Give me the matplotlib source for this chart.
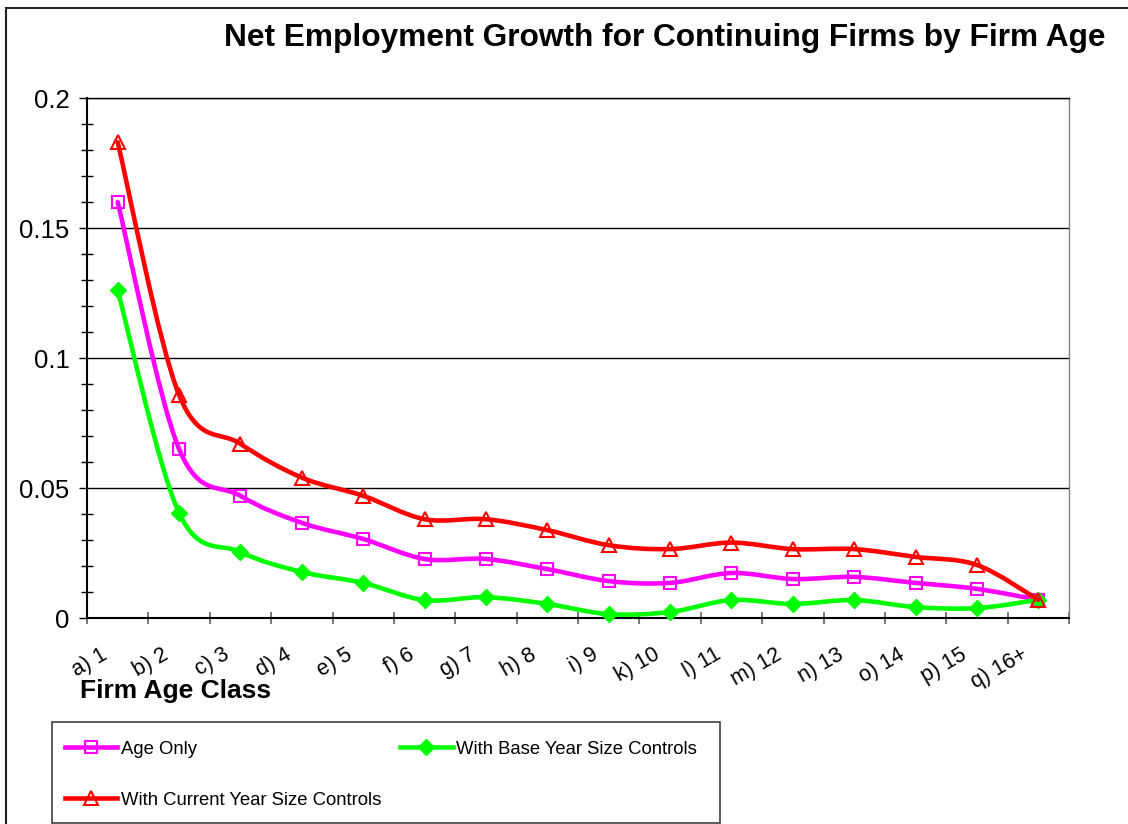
import matplotlib
matplotlib.use("Agg")
import matplotlib.pyplot as plt
import numpy as np
from matplotlib.path import Path
from matplotlib.patches import PathPatch, Rectangle
from matplotlib.lines import Line2D
from matplotlib.ticker import FixedLocator, MultipleLocator
import matplotlib.transforms as mtrans

plt.rcParams['font.family'] = ['Liberation Sans', 'DejaVu Sans']

categories = ["a) 1", "b) 2", "c) 3", "d) 4", "e) 5", "f) 6", "g) 7", "h) 8",
              "i) 9", "k) 10", "l) 11", "m) 12", "n) 13", "o) 14", "p) 15", "q) 16+"]
age_only = [0.160, 0.065, 0.047, 0.0366, 0.0304, 0.0227, 0.0227, 0.0188,
            0.0142, 0.0135, 0.0173, 0.0150, 0.0158, 0.0135, 0.0112, 0.007]
base_year = [0.126, 0.0404, 0.0254, 0.0177, 0.0135, 0.0069, 0.0080, 0.0054,
             0.0015, 0.0023, 0.0069, 0.0054, 0.0069, 0.0042, 0.0038, 0.007]
current_year = [0.183, 0.0858, 0.067, 0.054, 0.047, 0.038, 0.038, 0.0338,
                0.028, 0.0265, 0.029, 0.0265, 0.0265, 0.0235, 0.0204, 0.007]

W, H = 1128, 824
fig = plt.figure(figsize=(W / 100, H / 100), dpi=100)
ax = fig.add_axes([87 / W, 1 - 618 / H, 982 / W, 520 / H])

n = len(categories)
xs = np.arange(n) + 0.5


def smooth_path(x, y):
    pts = np.column_stack([x, y])
    verts = [pts[0]]
    codes = [Path.MOVETO]
    for i in range(len(pts) - 1):
        p0 = pts[i - 1] if i > 0 else pts[i]
        p1 = pts[i]
        p2 = pts[i + 1]
        p3 = pts[i + 2] if i + 2 < len(pts) else pts[i + 1]
        c1 = p1 + (p2 - p0) / 6.0
        c2 = p2 - (p3 - p1) / 6.0
        verts += [c1, c2, p2]
        codes += [Path.CURVE4] * 3
    return Path(verts, codes)


series = [
    ("Age Only", age_only, "#FF00FF", dict(marker="s", ms=9, mfc="none", mew=1.5)),
    ("With Base Year Size Controls", base_year, "#00FF00", dict(marker="D", ms=8.5, mfc="#00FF00", mew=1)),
    ("With Current Year Size Controls", current_year, "#FF0000", dict(marker="^", ms=10.5, mfc="none", mew=1.5)),
]

handles = {}
for z, (name, vals, col, mk) in enumerate(series):
    patch = PathPatch(smooth_path(xs, np.array(vals)), fill=False, edgecolor=col,
                      lw=3.3, capstyle="round", joinstyle="round", zorder=3 + z)
    ax.add_patch(patch)
    ax.plot(xs, vals, linestyle="none", color=col, mec=col, zorder=3.5 + z, clip_on=False, **mk)
    handles[name] = Line2D([], [], color=col, lw=3.3, mec=col, **mk)

ax.set_xlim(0, n)
ax.set_ylim(0, 0.2)

# y axis
ax.set_yticks([0, 0.05, 0.1, 0.15, 0.2])
ax.set_yticklabels(["0", "0.05", "0.1", "0.15", "0.2"])
ax.yaxis.set_minor_locator(MultipleLocator(0.01))
ax.tick_params(axis="y", which="major", direction="out", length=5.5, width=1,
               labelsize=18.5, pad=7, color="black")
ax.tick_params(axis="y", which="minor", direction="inout", length=9, width=1, color="black")
ax.grid(axis="y", which="major", color="black", lw=1)

# x axis: ticks at category boundaries, labels at centers
ax.xaxis.set_major_locator(FixedLocator(np.arange(0, n + 1)))
ax.xaxis.set_minor_locator(FixedLocator([]))
ax.set_xticklabels([])
ax.tick_params(axis="x", which="major", direction="inout", length=8, width=1.2, color="#606060")
offset = mtrans.ScaledTranslation(-7 / 100, -26 / 100, fig.dpi_scale_trans)
for xc, lab in zip(xs, categories):
    ax.text(xc, 0, lab, transform=ax.get_xaxis_transform() + offset, rotation=30,
            ha="right", va="top", fontsize=15.5, rotation_mode="default")

ax.set_axisbelow(True)
for s in ["left", "bottom"]:
    ax.spines[s].set_color("black")
    ax.spines[s].set_linewidth(1.5)
ax.spines["top"].set_color("black")
ax.spines["top"].set_linewidth(1)
ax.spines["right"].set_color("#808080")
ax.spines["right"].set_linewidth(1)

# title and axis title
fig.text(1105 / W, 1 - 38 / H, "Net Employment Growth for Continuing Firms by Firm Age",
         ha="right", va="center", fontsize=22.8, fontweight="bold")
fig.text(80 / W, 1 - 691 / H, "Firm Age Class", ha="left", va="center",
         fontsize=19, fontweight="bold")

# chart area border
fig.patches.append(Rectangle((6 / W, -0.1), 1.2, 1 - 8 / H + 0.1, transform=fig.transFigure,
                             fill=False, edgecolor="#202020", lw=1.5))

# legend
order = ["Age Only", "With Current Year Size Controls", "With Base Year Size Controls"]
leg = fig.legend([handles[k] for k in order], order, ncol=2, loc="upper left",
                 bbox_to_anchor=(50 / W, 1 - 726 / H), frameon=False, fontsize=13.3,
                 handlelength=2.85, handletextpad=0.2, columnspacing=1.0,
                 labelspacing=1.85, borderpad=0.3, numpoints=1)
fig.patches.append(Rectangle((52 / W, 1 - 823 / H), (720 - 52) / W, (823 - 722) / H,
                             transform=fig.transFigure, fill=False, edgecolor="#404040", lw=1.2))

fig.savefig("out.png", dpi=100)
